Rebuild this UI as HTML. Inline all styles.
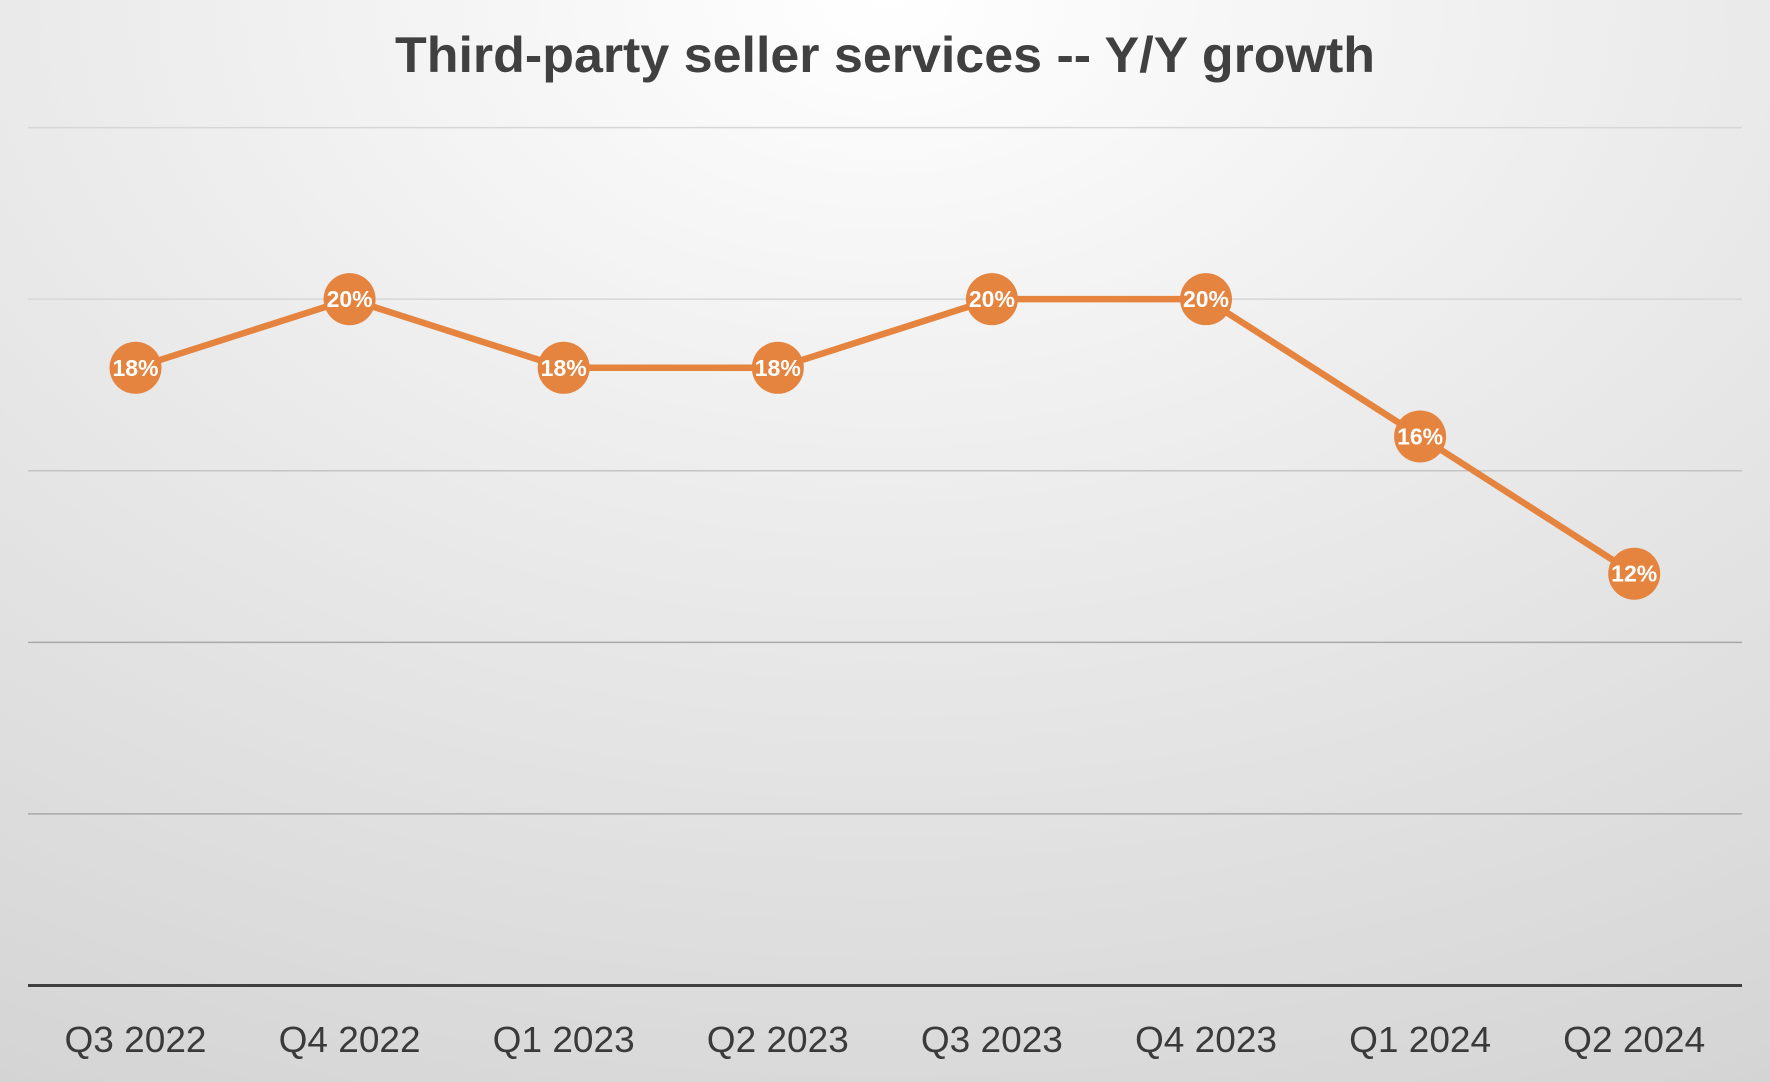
<!DOCTYPE html>
<html><head><meta charset="utf-8"><style>
html,body{margin:0;padding:0;width:1770px;height:1082px;overflow:hidden}
html{background:#d2d2d2}
body{background:radial-gradient(ellipse 110% 120% at 50% 0%,#ffffff 0%,#ececec 40%,#d2d2d2 100%);font-family:"Liberation Sans",sans-serif}
svg{display:block}
</style></head><body>
<svg id="chart" width="1770" height="1082" xmlns="http://www.w3.org/2000/svg">
<text x="885" y="72" text-anchor="middle" font-family="Liberation Sans, sans-serif" font-weight="bold" font-size="50" fill="#404040" textLength="980" lengthAdjust="spacingAndGlyphs">Third-party seller services -- Y/Y growth</text>
<g id="grid"></g><g id="series"></g><g id="xaxis"></g>
</svg>
<script>
const categories=["Q3 2022","Q4 2022","Q1 2023","Q2 2023","Q3 2023","Q4 2023","Q1 2024","Q2 2024"];
const values=[18,20,18,18,20,20,16,12];
const gridTicks=[5,10,15,20,25];
const NS="http://www.w3.org/2000/svg";
const y0=985.5,yTop=127.6,vMax=25;
function y(v){return y0-(v/vMax)*(y0-yTop);}
function x(i){return 135.5+i*214.1;}
function mk(t,a,p){const e=document.createElementNS(NS,t);for(const k in a)e.setAttribute(k,a[k]);p.appendChild(e);return e;}
const grid=document.getElementById('grid'),ser=document.getElementById('series'),xa=document.getElementById('xaxis');
gridTicks.forEach(v=>{const l=mk('line',{x1:28,x2:1742,y1:y(v),y2:y(v),stroke:v>=20?'#d6d6d6':(v>=15?'#c4c4c4':'#a8a8a8'),'stroke-width':1.5},grid);

});
const ax=mk('line',{x1:28,x2:1742,y1:y0,y2:y0,stroke:'#404040','stroke-width':3},xa);


const pl=mk('polyline',{points:values.map((v,i)=>x(i)+','+y(v)).join(' '),fill:'none',stroke:'#E5843E','stroke-width':6.5,'stroke-linejoin':'round'},ser);


values.forEach((v,i)=>{
const c=mk('circle',{cx:x(i),cy:y(v),r:26,fill:'#E5843E'},ser);


const t=mk('text',{x:x(i),y:y(v)+8,'text-anchor':'middle','font-size':23,'font-weight':'bold',fill:'#fff','font-family':'Liberation Sans, sans-serif'},ser);
t.textContent=v+'%';


const xl=mk('text',{x:x(i),y:1052,'text-anchor':'middle','font-size':36,fill:'#3a3a3a','font-family':'Liberation Sans, sans-serif',textLength:142,lengthAdjust:'spacingAndGlyphs'},xa);
xl.textContent=categories[i];


});
</script>
</body></html>
